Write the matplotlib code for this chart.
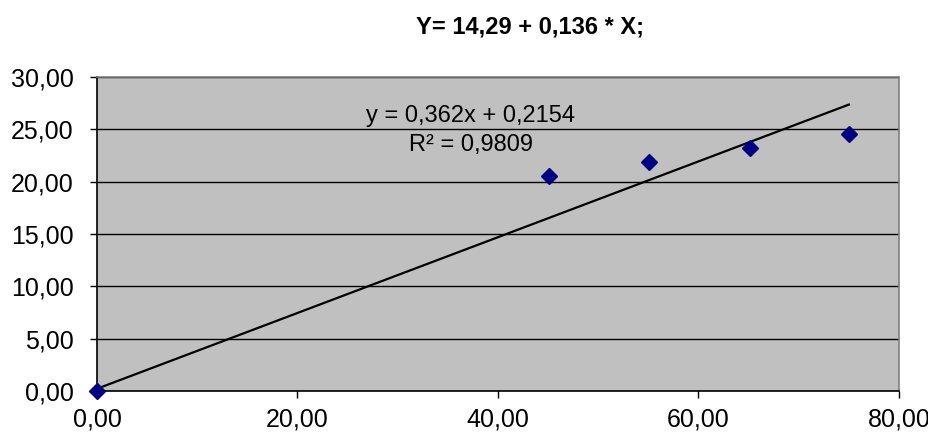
import matplotlib.pyplot as plt
import numpy as np

# datos
x_vals = [0.0, 45.1, 55.1, 65.1, 75.0]
y_vals = [0.0, 20.5, 21.9, 23.2, 24.6]
pendiente = 0.362
intercepto = 0.2154
r2 = 0.9809
titulo = "Y= 14,29 + 0,136 * X;"
x_ticks = [0, 20, 40, 60, 80]
y_ticks = [0, 5, 10, 15, 20, 25, 30]

plt.rcParams['font.family'] = ['Liberation Sans', 'DejaVu Sans']

def coma(v, pos=None):
    return f"{v:.2f}".replace('.', ',')

fig = plt.figure(figsize=(9.29, 4.32), dpi=100)
ax = fig.add_axes([97 / 929, 1 - 391 / 432, (899 - 97) / 929, (391 - 77) / 432])
ax.set_facecolor('#C0C0C0')

# linea de tendencia
xt = np.array([0, max(x_vals)])
ax.plot(xt, pendiente * xt + intercepto, color='black', lw=1.6, zorder=3)
ax.plot(x_vals, y_vals, linestyle='none', marker='D', markersize=8.5,
        color='#000080', clip_on=False, zorder=4)

ax.set_xlim(0, 80)
ax.set_ylim(0, 30)
ax.set_xticks(x_ticks)
ax.set_yticks(y_ticks)
ax.xaxis.set_major_formatter(plt.FuncFormatter(coma))
ax.yaxis.set_major_formatter(plt.FuncFormatter(coma))
ax.tick_params(axis='both', labelsize=18, direction='out', length=5, width=1, color='black')
ax.tick_params(axis='x', pad=7)
ax.tick_params(axis='y', pad=12)
ax.yaxis.grid(True, color='black', lw=1)
ax.set_axisbelow(True)

for lado in ['top', 'right']:
    ax.spines[lado].set_color('#808080')
    ax.spines[lado].set_linewidth(1.2)
for lado in ['left', 'bottom']:
    ax.spines[lado].set_color('black')
    ax.spines[lado].set_linewidth(1.2)

ax.text(37.3, 26.3, f"y = {pendiente:.3f}x + {intercepto:.4f}".replace('.', ','),
        ha='center', va='center', fontsize=17)
ax.text(37.3, 23.55, f"R² = {r2:.4f}".replace('.', ','),
        ha='center', va='center', fontsize=17)

fig.text(530 / 929, 1 - 27 / 432, titulo, ha='center', va='center',
         fontsize=17, fontweight='bold')

fig.savefig('out.png', dpi=100)
